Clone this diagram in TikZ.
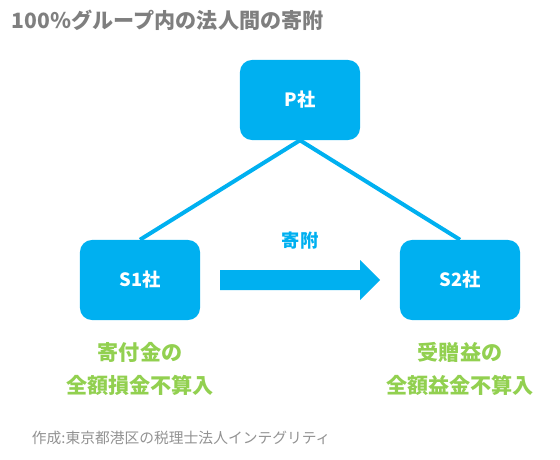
\documentclass[tikz,border=0pt]{standalone}
\usepackage{fontspec}
\setmainfont{Noto Sans CJK JP}
\usetikzlibrary{positioning}

\definecolor{kblue}{HTML}{00B0F0}
\definecolor{kgreen}{HTML}{92D050}
\definecolor{kgray}{HTML}{7F7F7F}

\tikzset{
  corp/.style   = {draw=none, fill=kblue, rounded corners=0.3cm, minimum width=3cm,
                   minimum height=2cm, text=white, font=\fontsize{13}{15}\selectfont\bfseries},
  result/.style = {text=kgreen, font=\fontsize{15}{18}\selectfont\bfseries, align=center},
}

\begin{document}
\begin{tikzpicture}[x=0.025cm, y=-0.025cm]

\useasboundingbox (0,0) rectangle (560,460);

\node [anchor=west, text=kgray, font=\fontsize{15}{17}\selectfont\bfseries] (title) at (7,20) {100％グループ内の法人間の寄附};

\node [corp] (p)  at (300,100) {P社};
\node [corp] (s1) at (140,280) {S1社};
\node [corp] (s2) at (460,280) {S2社};

\path [draw, kblue, line width=0.1cm] (s1.north) -- (p.south) -- (s2.north);

% donation arrow
\fill [kblue] (220,270) -- (360,270) -- (360,260) -- (380,280) -- (360,300) -- (360,290) -- (220,290) -- cycle;
\node [text=kblue, font=\fontsize{13}{15}\selectfont\bfseries] (gift) at (300,241) {寄附};

\node [result] (r1a) at (140,352) {寄付金の};
\node [result] (r1b) at (140,385) {全額損金不算入};
\node [result] (r2a) at (460,352) {受贈益の};
\node [result] (r2b) at (460,385) {全額益金不算入};

\node [anchor=west, text=kgray!85, font=\fontsize{10.5}{12}\selectfont] (src) at (27,438) {作成:東京都港区の税理士法人インテグリティ};

\end{tikzpicture}
\end{document}
